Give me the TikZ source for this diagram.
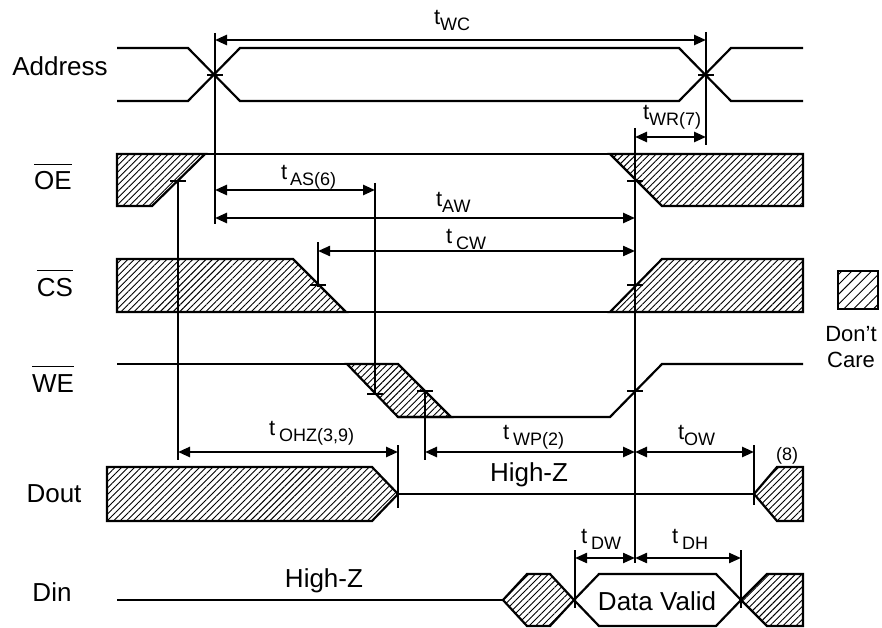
\documentclass[tikz,border=0pt]{standalone}
\usepackage{fontspec}
\setmainfont{Liberation Sans}
\usetikzlibrary{arrows.meta,patterns.meta}

% t with a subscript, optional gap after the t
\newcommand{\tlab}[2][0pt]{{\fontsize{22}{22}\selectfont t}\kern#1{\fontsize{18}{18}\selectfont\raisebox{-6pt}{#2}}}
% active-low signal name
\newcommand{\lowsig}[1]{$\overline{\mbox{#1}\rule{0pt}{24pt}}$}

\begin{document}
\begin{tikzpicture}[x=1pt, y=-1pt, line width=2.2pt,
  every node/.style={font=\fontsize{26}{30}\selectfont, inner sep=0pt},
  hatch/.style={draw, pattern={Lines[angle=45,distance=4.6pt,line width=0.9pt]}},
  dim/.style={{Triangle[length=12pt,width=10pt]}-{Triangle[length=12pt,width=10pt]}, line width=2.6pt}]

\useasboundingbox (0,0) rectangle (882,628);

% Signal names
\node (address) [anchor=base] at (60,76) {Address};
\node (oe) [anchor=base] at (53,190) {\lowsig{OE}};
\node (cs) [anchor=base] at (55,296) {\lowsig{CS}};
\node (we) [anchor=base] at (53,392) {\lowsig{WE}};
\node (dout) [anchor=base] at (54,502) {Dout};
\node (din) [anchor=base] at (52,601) {Din};

% Address
\draw (117,48) -- (188,48) -- (240,101) -- (679,101) -- (731,48) -- (803,48);
\draw (117,101) -- (188,101) -- (240,48) -- (679,48) -- (731,101) -- (803,101);

% OE
\filldraw[hatch] (117,154) -- (205,154) -- (152,206) -- (117,206) -- cycle;
\draw (205,154) -- (610,154);
\filldraw[hatch] (610,154) -- (803,154) -- (803,206) -- (662,206) -- cycle;

% CS
\filldraw[hatch] (117,259) -- (293,259) -- (346,312) -- (117,312) -- cycle;
\draw (346,312) -- (610,312);
\filldraw[hatch] (610,312) -- (662,259) -- (803,259) -- (803,312) -- cycle;

% WE
\draw (117,364) -- (398,364);
\filldraw[hatch] (347,364) -- (398,364) -- (451,417) -- (398,417) -- cycle;
\draw (398,417) -- (610,417) -- (662,364) -- (803,364);

% Dout
\filldraw[hatch] (107,467) -- (372,467) -- (398,494) -- (372,521) -- (107,521) -- cycle;
\draw (398,494) -- (754,494);
\filldraw[hatch] (754,494) -- (777,467) -- (803,467) -- (803,521) -- (777,521) -- cycle;
\node (hizout) [anchor=base] at (529,481) {High-Z};

% Din
\draw (117,600) -- (503,600);
\filldraw[hatch] (503,600) -- (527,574) -- (550,574) -- (574,600) -- (550,626) -- (527,626) -- cycle;
\draw (574,600) -- (599,574) -- (716,574) -- (741,600) -- (716,626) -- (599,626) -- cycle;
\filldraw[hatch] (741,600) -- (767,574) -- (803,574) -- (803,626) -- (767,626) -- cycle;
\node (hizin) [anchor=base] at (324,587) {High-Z};
\node (valid) [anchor=base] at (657,610) {Data Valid};

% Reference lines
\draw (215,33) -- (215,224);
\draw (706,32) -- (706,145);
\draw (635,128) -- (635,563);
\draw (178,181) -- (178,460);
\draw (375,183) -- (375,395);
\draw (318,242) -- (318,287);
\draw (425,391) -- (425,460);
\draw (398,445) -- (398,508);
\draw (754,445) -- (754,505);
\draw (575,550) -- (575,608);
\draw (741,550) -- (741,608);

% Ticks
\foreach \x/\y in {215/75, 706/75, 178/181, 635/181, 318/285, 635/285, 375/394, 425/391, 635/391}
  \draw (\x-8,\y) -- (\x+8,\y);

% Timing arrows
\draw[dim] (215,40) -- (706,40);
\draw[dim] (635,137) -- (706,137);
\draw[dim] (215,190) -- (375,190);
\draw[dim] (215,218) -- (635,218);
\draw[dim, line width=2.2pt] (318,251) -- (635,251);
\draw[dim] (178,452) -- (398,452);
\draw[dim] (425,452) -- (635,452);
\draw[dim] (635,452) -- (754,452);
\draw[dim, line width=2.2pt] (575,558) -- (635,558);
\draw[dim, line width=2.2pt] (635,558) -- (741,558);

% Timing labels
\node (twc) [anchor=base west] at (433,25) {\tlab{WC}};
\node (twr) [anchor=base west] at (642,120) {\tlab{WR(7)}};
\node (tas) [anchor=base west] at (280,180) {\tlab[3pt]{AS(6)}};
\node (taw) [anchor=base west] at (435,207) {\tlab{AW}};
\node (tcw) [anchor=base west] at (445,243) {\tlab[4pt]{CW}};
\node (tohz) [anchor=base west] at (268,435) {\tlab[4pt]{OHZ(3,9)}};
\node (twp) [anchor=base west] at (502,439) {\tlab[4pt]{WP(2)}};
\node (tow) [anchor=base west] at (677,439) {\tlab{OW}};
\node (tdw) [anchor=base west] at (580,543) {\tlab[4pt]{DW}};
\node (tdh) [anchor=base west] at (671,543) {\tlab[4pt]{DH}};
\node (note8) [anchor=base, font=\fontsize{18}{18}\selectfont] at (787,460) {(8)};

% Legend
\filldraw[draw, pattern={Lines[angle=45,distance=7pt,line width=0.9pt]}] (838,271) rectangle (878,309);
\node (dont) [anchor=base, font=\fontsize{22}{22}\selectfont] at (851,341) {Don{\char"0027}t};
\node (care) [anchor=base, font=\fontsize{22}{22}\selectfont] at (851,367) {Care};

\end{tikzpicture}
\end{document}
